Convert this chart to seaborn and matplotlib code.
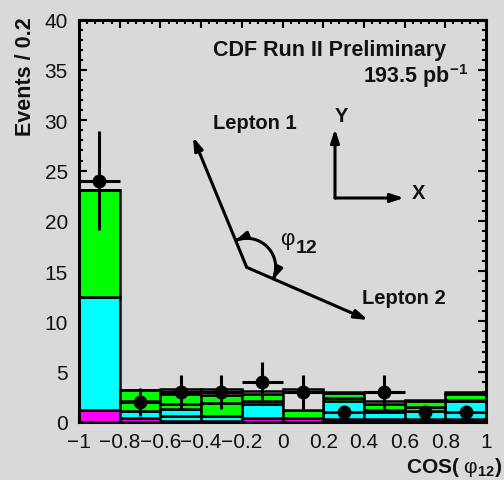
import numpy as np
import pandas as pd
import matplotlib
matplotlib.use("Agg")
import matplotlib.pyplot as plt
from matplotlib.ticker import MultipleLocator
from matplotlib.patches import FancyArrowPatch
from matplotlib.path import Path
import seaborn as sns

# ---- binning -------------------------------------------------------------
bin_edges = [-1.0, -0.8, -0.6, -0.4, -0.2, 0.0, 0.2, 0.4, 0.6, 0.8, 1.0]
bin_centers = [-0.9, -0.7, -0.5, -0.3, -0.1, 0.1, 0.3, 0.5, 0.7, 0.9]

# ---- stacked expectation (events per bin, bottom to top) -----------------
magenta_evts = [1.2, 0.4, 0.1, 0.1, 0.4, 0.4, 0.3, 0.3, 0.3, 0.3]
cyan_a_evts = [11.2, 0.7, 0.5, 0.5, 1.4, 0.0, 0.7, 0.7, 0.8, 0.7]
cyan_b_evts = [0.0, 0.0, 0.7, 0.0, 0.0, 0.0, 1.1, 0.0, 0.0, 1.1]
green_a_evts = [10.7, 1.0, 0.5, 1.3, 0.3, 0.8, 0.3, 0.2, 0.4, 0.1]
green_b_evts = [0.0, 1.1, 1.0, 0.8, 0.7, 0.0, 0.5, 0.6, 0.55, 0.6]
open_evts = [0.0, 0.0, 0.5, 0.6, 0.3, 2.1, 0.1, 0.3, 0.15, 0.15]

# ---- observed data ---------------------------------------------------------
data_counts = [24, 2, 3, 3, 4, 3, 1, 3, 1, 1]
data_yerr = [4.9, 1.4, 1.7, 1.7, 2.0, 1.7, 0.0, 1.7, 0.0, 0.0]
data_xerr = [0.1, 0.1, 0.1, 0.1, 0.1, 0.1, 0.0, 0.1, 0.0, 0.0]

# ---- axis ticks ------------------------------------------------------------
x_tick_vals = [-1.0, -0.8, -0.6, -0.4, -0.2, 0.0, 0.2, 0.4, 0.6, 0.8, 1.0]
x_tick_labels = ["\u22121", "\u22120.8", "\u22120.6", "\u22120.4", "\u22120.2",
                 "0", "0.2", "0.4", "0.6", "0.8", "1"]
y_tick_vals = [0, 5, 10, 15, 20, 25, 30, 35, 40]

BG = "#d9d9d9"

sns.set_style("ticks")
plt.rcParams["font.family"] = ["Liberation Sans", "DejaVu Sans"]
plt.rcParams["mathtext.fontset"] = "custom"
plt.rcParams["mathtext.rm"] = "Liberation Sans"
plt.rcParams["mathtext.bf"] = "Liberation Sans:bold"
plt.rcParams["mathtext.it"] = "Liberation Sans:italic"

W, H = 504, 481
fig = plt.figure(figsize=(W / 100, H / 100), dpi=100, facecolor=BG)
ax = fig.add_axes([79 / W, 1 - 423 / H, (486 - 79) / W, (423 - 20.7) / H])
ax.set_facecolor(BG)

components = ["open", "green_b", "green_a", "cyan_b", "cyan_a", "magenta"]
heights = {
    "magenta": magenta_evts,
    "cyan_a": cyan_a_evts,
    "cyan_b": cyan_b_evts,
    "green_a": green_a_evts,
    "green_b": green_b_evts,
    "open": open_evts,
}
df = pd.DataFrame({
    "cos": np.tile(bin_centers, len(components)),
    "events": np.concatenate([heights[c] for c in components]),
    "component": np.repeat(components, len(bin_centers)),
})
palette = {
    "magenta": "#ff00ff",
    "cyan_a": "#00ffff",
    "cyan_b": "#00ffff",
    "green_a": "#00ff00",
    "green_b": "#00ff00",
    "open": BG,
}
sns.histplot(data=df, x="cos", weights="events", hue="component",
             hue_order=components, multiple="stack", bins=bin_edges,
             palette=palette, edgecolor="black", linewidth=1.8, alpha=1,
             legend=False, ax=ax, zorder=2)

ax.errorbar(bin_centers, data_counts, yerr=data_yerr, xerr=data_xerr,
            fmt="o", color="black", ms=9, elinewidth=2.2, capsize=0, zorder=5)

ax.set_xlim(-1, 1)
ax.set_ylim(0, 40)
ax.set_xticks(x_tick_vals, x_tick_labels)
ax.set_yticks(y_tick_vals)
ax.xaxis.set_minor_locator(MultipleLocator(0.04))
ax.yaxis.set_minor_locator(MultipleLocator(1))
ax.tick_params(which="both", direction="in", top=True, right=True,
               width=1.5, labelsize=15, color="black", labelcolor="#111111")
ax.tick_params(which="major", length=6)
ax.tick_params(which="minor", length=3)
ax.tick_params(axis="y", pad=8)
ax.tick_params(axis="x", pad=7)
for s in ax.spines.values():
    s.set_linewidth(2.2)
    s.set_color("black")
ax.set_xlabel("")
ax.set_ylabel("")


def fpos(x, y):
    return (x / W, 1 - y / H)


# axis titles
fig.text(*fpos(26, 17), "Events / 0.2", rotation=90, ha="center", va="top",
         fontsize=15.5, fontweight="bold", color="#111111")
fig.text(*fpos(503, 473), r"COS( $\mathrm{\varphi}_{\mathbf{12}}$)",
         ha="right", va="baseline", fontsize=15, fontweight="bold",
         color="#111111")

# header text
fig.text(*fpos(213, 56), "CDF Run II Preliminary", ha="left",
         va="baseline", fontsize=15.5, fontweight="bold", color="#111111")
fig.text(*fpos(468, 83), r"193.5 pb$^{\mathbf{-1}}$", ha="right",
         va="baseline", fontsize=15.5, fontweight="bold", color="#111111")

# lepton diagram
fig.text(*fpos(213, 129), "Lepton 1", ha="left", va="baseline",
         fontsize=14.5, fontweight="bold", color="#111111")
fig.text(*fpos(362, 304), "Lepton 2", ha="left", va="baseline",
         fontsize=14.5, fontweight="bold", color="#111111")
fig.text(*fpos(341, 122), "Y", ha="center", va="baseline",
         fontsize=14.5, fontweight="bold", color="#111111")
fig.text(*fpos(419, 199), "X", ha="center", va="baseline",
         fontsize=14.5, fontweight="bold", color="#111111")
fig.text(*fpos(280, 245), "\u03c6", ha="left", va="baseline",
         fontsize=16, color="#111111")
fig.text(*fpos(296, 253), "12", ha="left", va="baseline",
         fontsize=14, fontweight="bold", color="#111111")

arrow_kw = dict(arrowstyle="-|>,head_length=0.55,head_width=0.18",
                mutation_scale=14, lw=2.2, color="black",
                transform=fig.transFigure, shrinkA=0, shrinkB=0)
vertex = (246.7, 268.3)
for tip in [(193, 138), (368, 321)]:
    fig.add_artist(FancyArrowPatch(fpos(*vertex), fpos(*tip), **arrow_kw))
origin = (335, 199)
fig.add_artist(FancyArrowPatch(fpos(*origin), fpos(335, 130), **arrow_kw))
fig.add_artist(FancyArrowPatch(fpos(*origin), fpos(404, 199), **arrow_kw))

# opening-angle arc between the two leptons
ang = np.radians(np.linspace(114, -26, 60))
r = 29
arc_pts = [fpos(vertex[0] + r * np.cos(a), vertex[1] - r * np.sin(a)) for a in ang]
arc_kw = dict(arrow_kw)
arc_kw["arrowstyle"] = "<|-|>,head_length=0.5,head_width=0.16"
arc_kw.pop("shrinkA"); arc_kw.pop("shrinkB")
fig.add_artist(FancyArrowPatch(path=Path(arc_pts), **arc_kw))

fig.savefig("out.png", dpi=100, facecolor=BG)
